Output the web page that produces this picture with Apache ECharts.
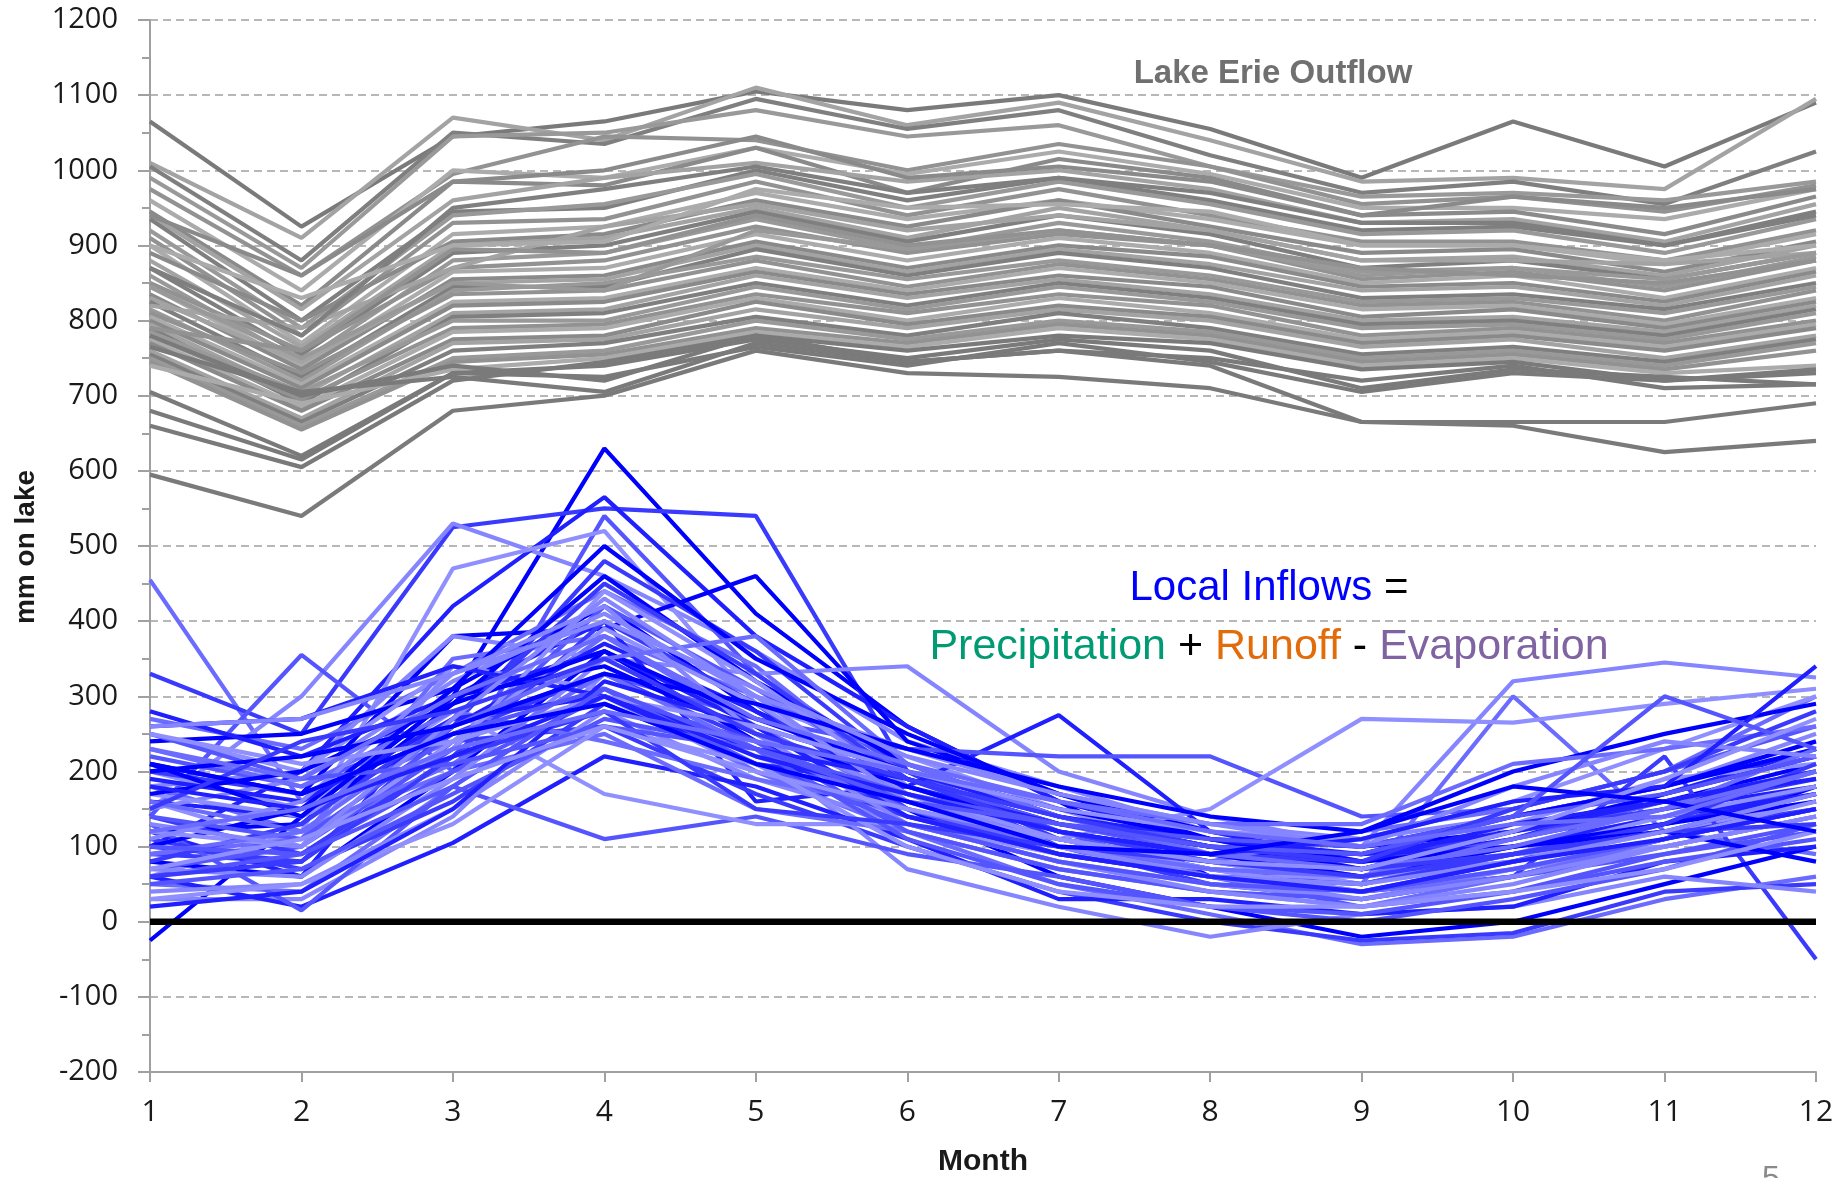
<!DOCTYPE html>
<html>
<head>
<meta charset="utf-8">
<script src="https://cdn.jsdelivr.net/npm/echarts@6/dist/echarts.min.js"></script>
<style>
html,body{margin:0;padding:0;background:#fff;}
#chart{width:1844px;height:1178px;}
</style>
</head>
<body>
<div id="chart"></div>
<script>
const months = [1,2,3,4,5,6,7,8,9,10,11,12];
const yTicks = [-200,-100,0,100,200,300,400,500,600,700,800,900,1000,1100,1200];
const zeroLine = [0,0,0,0,0,0,0,0,0,0,0,0];

// Lake Erie outflow traces (mm on lake), months 1..12
const outflow = [
  [1065, 925,1045,1065,1105,1080,1100,1055, 990,1065,1005,1090],
  [1010, 910,1070,1040,1110,1060,1090,1040, 985, 990, 975,1095],
  [1005, 880,1050,1035,1095,1055,1080,1020, 970, 985, 955,1025],
  [ 990, 870,1045,1050,1080,1045,1060,1005, 965, 970, 960, 985],
  [ 975, 860, 995,1045,1040,1000,1035,1005, 955, 965, 945, 980],
  [ 960, 840,1000, 990,1030, 995,1025, 995, 950, 950, 935, 975],
  [ 945, 820, 985, 980,1030, 970,1015, 990, 940, 945, 915, 965],
  [ 940, 815, 960, 990,1010, 985,1000, 975, 930, 935, 905, 955],
  [ 935, 800, 945, 950,1000, 960, 990, 960, 920, 925, 900, 945],
  [ 920, 790, 940, 955, 995, 950, 985, 955, 915, 920, 890, 935],
  [ 910, 780, 930, 935, 985, 940, 975, 940, 905, 905, 880, 920],
  [ 900, 770, 915, 925, 970, 935, 960, 935, 900, 900, 875, 915],
  [ 890, 800, 905, 915, 960, 925, 960, 925, 890, 895, 865, 905],
  [ 880, 765, 900, 910, 950, 910, 950, 920, 880, 885, 860, 900],
  [ 870, 755, 890, 900, 945, 905, 940, 915, 870, 880, 855, 890],
  [ 860, 745, 880, 890, 935, 895, 930, 905, 865, 870, 845, 885],
  [ 850, 760, 870, 880, 925, 890, 915, 900, 855, 865, 840, 880],
  [ 845, 740, 865, 870, 915, 880, 910, 890, 850, 860, 830, 870],
  [ 835, 735, 855, 860, 905, 870, 900, 885, 845, 850, 825, 865],
  [ 830, 745, 850, 855, 900, 865, 895, 875, 840, 845, 820, 860],
  [ 825, 725, 845, 845, 895, 860, 890, 870, 830, 835, 815, 850],
  [ 815, 720, 840, 850, 885, 855, 880, 860, 825, 830, 810, 845],
  [ 810, 730, 835, 840, 880, 845, 875, 855, 820, 825, 800, 840],
  [ 805, 715, 825, 830, 870, 840, 870, 850, 815, 820, 795, 830],
  [ 800, 710, 820, 825, 865, 835, 860, 845, 805, 815, 790, 825],
  [ 795, 700, 810, 815, 860, 830, 855, 835, 800, 805, 785, 820],
  [ 790, 690, 805, 810, 850, 820, 850, 830, 795, 800, 780, 815],
  [ 785, 705, 800, 800, 845, 815, 845, 825, 790, 795, 775, 810],
  [ 780, 695, 790, 795, 835, 810, 835, 820, 780, 790, 770, 800],
  [ 775, 685, 785, 790, 830, 800, 830, 810, 775, 785, 765, 795],
  [ 770, 680, 775, 780, 825, 795, 820, 805, 770, 780, 760, 790],
  [ 760, 670, 770, 775, 815, 790, 815, 800, 765, 775, 750, 780],
  [ 755, 665, 760, 770, 805, 780, 810, 790, 755, 765, 745, 775],
  [ 750, 660, 750, 760, 800, 775, 800, 785, 750, 760, 740, 770],
  [ 745, 655, 745, 755, 790, 770, 795, 780, 745, 755, 735, 760],
  [ 740, 690, 735, 750, 785, 765, 790, 775, 740, 750, 730, 740],
  [ 780, 700, 740, 720, 780, 760, 780, 770, 735, 745, 720, 735],
  [ 765, 705, 725, 705, 770, 745, 760, 750, 720, 740, 710, 715],
  [ 705, 620, 730, 740, 775, 750, 775, 760, 710, 735, 725, 715],
  [ 680, 615, 730, 725, 765, 740, 770, 745, 705, 730, 720, 730],
  [ 660, 605, 720, 745, 780, 745, 760, 740, 665, 665, 665, 690],
  [ 595, 540, 680, 700, 760, 730, 725, 710, 665, 660, 625, 640],
  [ 940, 860, 985,1000,1045, 990,1005, 985, 940, 965, 950, 975],
  [ 820, 790, 870, 925, 955, 920, 940, 920, 880, 880, 875, 890],
  [ 870, 780, 950, 975,1005, 970, 990, 970, 930, 930, 900, 940],
  [ 845, 750, 850, 840, 920, 895, 920, 900, 860, 870, 855, 890],
  [ 790, 760, 895, 890, 940, 900, 920, 900, 870, 860, 850, 880],
  [ 900, 830, 900, 905, 975, 950, 955, 945, 900, 900, 880, 900]
];

// Local inflow traces (mm on lake), months 1..12
const inflow = [
  [ -25, 140, 300, 630, 410, 260, 160,  60,  40,  60, 110, 180],
  [ 455, 160, 240, 380, 300, 200, 120,  90,  60,  80, 130, 170],
  [ 330, 250, 525, 550, 540, 200, 110,  70,  50,  90, 120, 150],
  [ 150, 300, 530, 460, 360, 240, 180, 120,  80, 100, 140, 200],
  [ 100, 200, 420, 565, 380, 260, 160, 110,  70, 110, 150, 180],
  [ 140, 355, 200, 540, 330, 200, 120,  60,  20,  40,  90, 130],
  [  60, 120, 470, 520, 290, 220, 150,  90,  60,  80, 120, 160],
  [ 210, 170, 380, 390, 460, 240, 170, 120, 100, 120, 160, 210],
  [ 270, 230, 330, 440, 340, 180, 120,  80,  50, 300, 120,  90],
  [  90,  80, 260, 480, 360, 200, 100,  50,  30,  60, 220, -50],
  [ 180, 200, 380, 350, 330, 340, 200, 140, 100, 320, 345, 325],
  [ 120,  60, 300, 400, 160, 180, 275, 120,  80, 110, 170, 230],
  [ 220, 180, 260, 330, 270, 230, 220, 220, 140, 150, 200, 260],
  [ 160, 100, 340, 300, 200, 140, 110, 150, 270, 265, 290, 310],
  [  80,  60, 200, 360, 240, 150,  60,  20, -20,   0,  50, 100],
  [  50,  40, 180, 310, 200, 120,  50,  10, -30, -20,  30,  60],
  [ 100,  80, 240, 260, 170, 100,  40,   0, -25, -15,  40,  50],
  [  30,  30, 140, 330, 230,  70,  20, -20,  10,  20,  60,  40],
  [  60,  20, 105, 220, 180, 110,  30,  30,  10,  20,  80, 100],
  [ 130,  15, 180, 110, 140,  90,  60,  20,   0,  30,  70, 130],
  [ 200, 150, 280, 170, 130, 130,  90,  70,  60, 130, 190, 210],
  [ 240, 250, 310, 420, 280, 190, 130, 100,  90, 140, 180, 230],
  [ 180, 120, 200, 250, 150, 120,  70,  40,  20,  60, 110, 150],
  [ 110,  70, 160, 290, 210, 140,  90,  60,  40,  80, 130, 180],
  [  40,  50, 150, 280, 190, 130,  80,  50,  30,  70, 100, 140],
  [ 160, 140, 260, 370, 280, 170, 110,  80,  60, 100, 130, 170],
  [  70, 100, 230, 420, 310, 190, 130,  90,  70, 110, 160, 200],
  [ 250, 200, 340, 310, 220, 160, 100,  60,  60,  90, 100, 140],
  [ 120, 130, 290, 460, 320, 210, 140, 100,  70, 120, 170, 220],
  [  90, 110, 350, 380, 260, 160, 110,  70,  40,  60, 110, 150],
  [ 200, 170, 250, 330, 240, 140, 100,  90,  80, 120, 150, 190],
  [ 150, 190, 320, 410, 300, 230, 170, 130, 110, 140, 180, 250],
  [ 280, 220, 300, 360, 260, 200, 140, 100,  90, 100, 140, 170],
  [  60,  90, 200, 300, 240, 120,  70,  40,  30,  60,  90, 120],
  [ 170, 140, 230, 440, 320, 180, 120,  80,  50,  90, 140, 180],
  [ 100, 150, 310, 500, 350, 250, 170, 110,  80, 100, 130, 160],
  [ 230, 180, 280, 240, 190, 150, 110,  80, 120, 150, 200, 300],
  [ 140,  90, 220, 400, 290, 150,  90,  60,  50,  90, 130, 210],
  [  70,  60, 190, 350, 250, 130,  80,  40,  20,  50, 100, 140],
  [ 190, 160, 270, 300, 210, 180, 130, 100,  80, 130, 160, 190],
  [  50,  70, 170, 270, 230, 110,  50,  20,  10,  40,  80, 110],
  [ 120, 100, 240, 390, 290, 170, 110,  70,  40,  70, 110, 160],
  [ 210, 140, 300, 340, 250, 180, 120,  90,  60, 100, 120,  80],
  [ 160, 120, 210, 330, 230, 150, 100,  70,  60, 110, 150, 230],
  [  80, 130, 270, 450, 330, 190, 120,  80,  60,  90, 120, 170],
  [ 110, 160, 330, 420, 250, 170, 100,  60,  30,  60, 100, 140],
  [ 260, 270, 340, 300, 230, 190, 140, 110,  90, 120, 160, 200],
  [ 140, 110, 250, 310, 210, 130,  80,  50,  40,  70, 110, 150],
  [  30,  50, 130, 260, 210, 100,  40,  20,  20,  40,  70, 120],
  [ 170, 200, 290, 360, 270, 200, 150, 110, 100, 140, 180, 240],
  [  90, 120, 260, 350, 380, 210, 140,  90,  70, 100, 150, 200],
  [  60,  80, 220, 280, 150, 130, 100,  80,  70,  90, 120, 130],
  [ 130, 100, 270, 430, 300, 160, 100,  60,  50,  80, 120, 170],
  [  20,  40, 150, 320, 260, 140,  90,  60,  40,  80, 110, 150],
  [ 250, 190, 210, 260, 230, 170, 130, 110, 100, 140, 170, 220],
  [ 250, 210, 240, 300, 260, 200, 150, 120, 110, 160, 230, 300],
  [ 200, 220, 260, 330, 290, 230, 180, 140, 120, 200, 250, 290],
  [ 230, 190, 300, 380, 270, 210, 160, 130, 130, 210, 230, 260],
  [ 150, 240, 280, 350, 250, 190, 140, 100,  80, 150, 200, 280],
  [ 260, 270, 330, 400, 310, 220, 170, 130, 100, 180, 240, 220],
  [ 180, 150, 220, 300, 220, 170, 120,  90, 110, 160, 180, 340],
  [ 100,  90, 180, 310, 230, 160, 130, 100,  90, 140, 300, 230],
  [  70, 110, 190, 260, 200, 150, 110,  80,  70, 120, 190, 270],
  [ 210, 170, 250, 290, 210, 160, 100,  90, 120, 180, 160, 120],
  [ 120, 150, 230, 280, 240, 200, 160, 120, 100, 130, 140, 200]
];

const grayShades = ['#8a8a8a','#a3a3a3','#7f7f7f','#999999','#929292','#ababab'];
const darkOutflowIdx = [0,36,37,38,39,40,41];
const blueShades = ['#0000ff','#6b6bff','#3a3aff','#8585ff','#1f1fff','#5555ff','#8f8fff'];
const traceWidth = 4.2;

function pairs(vals){ return months.map((m,i)=>[m, vals[i]]); }

const series = [];
outflow.forEach((v,i)=>{
  const c = darkOutflowIdx.includes(i) ? '#7a7a7a' : grayShades[i%grayShades.length];
  series.push({type:'line', data:pairs(v), symbol:'none', silent:true, showSymbol:false,
    lineStyle:{color:c, width:traceWidth}, emphasis:{disabled:true}});
});
inflow.forEach((v,i)=>{
  series.push({type:'line', data:pairs(v), symbol:'none', silent:true, showSymbol:false,
    lineStyle:{color:blueShades[i%blueShades.length], width:traceWidth}, emphasis:{disabled:true}});
});
series.push({type:'line', data:pairs(zeroLine), symbol:'none', silent:true, z:5,
  lineStyle:{color:'#000000', width:6.5}});

const chart = echarts.init(document.getElementById('chart'), null, {renderer:'canvas'});
const labelFont = 'Open Sans';
chart.setOption({
  animation:false,
  backgroundColor:'#ffffff',
  grid:{left:150, right:28, top:20, bottom:106, containLabel:false},
  xAxis:{
    type:'value', min:1, max:12, interval:1,
    axisLine:{show:true, onZero:false, lineStyle:{color:'#a0a0a0', width:2}},
    axisTick:{show:true, length:10, lineStyle:{color:'#a0a0a0', width:2}},
    splitLine:{show:false},
    axisLabel:{fontFamily:labelFont, fontSize:30, color:'#1a1a1a', margin:25}
  },
  yAxis:{
    type:'value', min:yTicks[0], max:yTicks[yTicks.length-1], interval:100,
    axisLine:{show:true, onZero:false, lineStyle:{color:'#a0a0a0', width:2}},
    axisTick:{show:true, length:12, lineStyle:{color:'#a0a0a0', width:2}},
    minorTick:{show:true, splitNumber:2, length:8, lineStyle:{color:'#a0a0a0', width:2}},
    splitLine:{show:true, lineStyle:{color:'#a0a0a0', width:1.5, type:[8,5]}},
    axisLabel:{fontFamily:labelFont, fontSize:29, color:'#1a1a1a', margin:32,
      formatter:(v)=>String(v)}
  },
  series:series,
  graphic:[
    {type:'text', x:26, y:547, rotation:Math.PI/2,
      style:{text:'mm on lake', fontFamily:'Liberation Sans', fontWeight:'bold', fontSize:28,
        fill:'#1a1a1a', textAlign:'center', textVerticalAlign:'middle'}},
    {type:'text', x:983, y:1162,
      style:{text:'Month', fontFamily:'Liberation Sans', fontWeight:'bold', fontSize:30,
        fill:'#1a1a1a', textAlign:'center', textVerticalAlign:'middle'}},
    {type:'text', x:1273, y:74,
      style:{text:'Lake Erie Outflow', fontFamily:'Liberation Sans', fontWeight:'bold', fontSize:33,
        fill:'#707070', textAlign:'center', textVerticalAlign:'middle'}},
    {type:'text', x:1269, y:588, z:10,
      style:{text:'{b|Local Inflows }{k|=}', textAlign:'center', textVerticalAlign:'middle',
        rich:{
          b:{fontFamily:'Liberation Sans', fontSize:42, fill:'#0000ff'},
          k:{fontFamily:'Liberation Sans', fontSize:42, fill:'#000000'}
        }}},
    {type:'text', x:1269, y:647, z:10,
      style:{text:'{g|Precipitation }{k|+ }{o|Runoff }{k|- }{p|Evaporation}', textAlign:'center', textVerticalAlign:'middle',
        rich:{
          g:{fontFamily:'Liberation Sans', fontSize:43, fill:'#009b72'},
          o:{fontFamily:'Liberation Sans', fontSize:43, fill:'#e36c0a'},
          p:{fontFamily:'Liberation Sans', fontSize:43, fill:'#8064a2'},
          k:{fontFamily:'Liberation Sans', fontSize:43, fill:'#000000'}
        }}},
    {type:'text', x:1771, y:1163,
      style:{text:'5', fontFamily:'Liberation Sans', fontSize:32, fill:'#8a8a8a', textAlign:'center', textVerticalAlign:'top'}}
  ]
});
</script>
</body>
</html>
